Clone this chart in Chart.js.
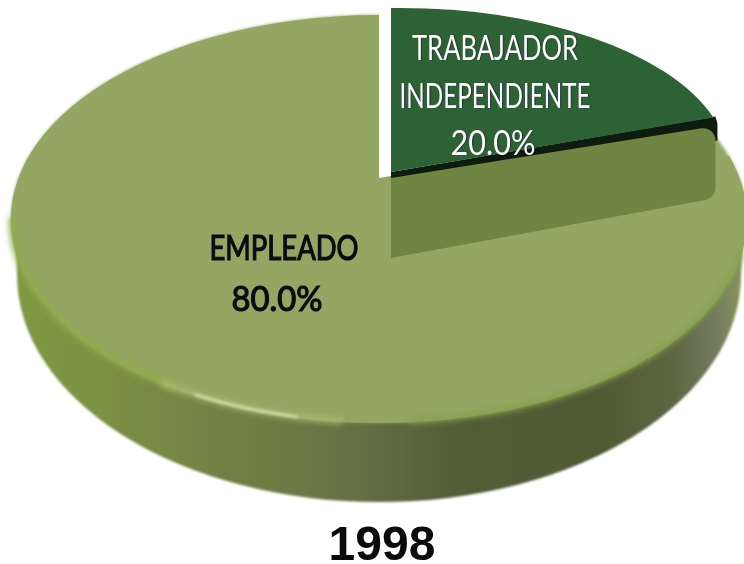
<!DOCTYPE html>
<html>
<head>
<meta charset="utf-8">
<style>html,body{margin:0;padding:0;background:#fff}canvas{display:block}</style>
<script src="https://cdn.jsdelivr.net/npm/chart.js@4"></script>
</head>
<body>
<canvas id="c" width="744" height="564"></canvas>
<script>
const categories = ['TRABAJADOR INDEPENDIENTE', 'EMPLEADO'];
const values = [20.0, 80.0];
const year = '1998';
const sliceColors = ['#2d6234', '#93a763'];

// projection of the round pie onto the page, one per slice
const faces = [
  {cx: 391, cy: 172, rx: 339, ry: 164, shear: -0.012},
  {cx: 379, cy: 219, rx: 368, ry: 204, shear: 0}
];
const base = {cx: 379, cy: 275, rx: 362, ry: 227};
const sideStops = [[0.0,'#7f9a42'],[0.1,'#7c9344'],[0.25,'#748546'],[0.4,'#6b7845'],[0.5,'#626c42'],[0.6,'#535d37'],[0.8,'#505a35'],[0.9,'#5d6641'],[0.96,'#767c60'],[1,'#8c9a58']];
const labelLayout = [
  {lines: [['TRABAJADOR',495,60,166],['INDEPENDIENTE',495,108,191]], pct: [493,155,85], color: '#fff', stroke: 0},
  {lines: [['EMPLEADO',284,260,149]], pct: [277,311,91], color: '#0b0b12', stroke: 1.2}
];

function place(ctx, arc, f) {
  ctx.translate(f.cx, f.cy);
  const R = arc.outerRadius;
  ctx.transform(f.rx / R, f.shear * f.rx / R, 0, f.ry / R, 0, 0);
  ctx.translate(-arc.x, -arc.y);
}
function endPoint(arc, f) {
  const a = arc.endAngle, c = Math.cos(a), s = Math.sin(a);
  return {x: f.cx + f.rx * c, y: f.cy + f.ry * s + f.shear * f.rx * c};
}

const pie3d = {
  id: 'pie3d',
  beforeDatasetsDraw(chart) {
    const ctx = chart.ctx;
    const arcs = chart.getDatasetMeta(0).data;
    const top = faces[1];
    const wedge = faces[0];
    const p = endPoint(arcs[0], wedge);
    const slope = (p.y - wedge.cy) / (p.x - wedge.cx);

    // side wall
    ctx.save();
    ctx.filter = 'blur(1px)';
    const g = ctx.createLinearGradient(top.cx - top.rx, 0, top.cx + top.rx, 0);
    sideStops.forEach(s => g.addColorStop(s[0], s[1]));
    ctx.fillStyle = g;
    ctx.beginPath();
    ctx.ellipse(base.cx, base.cy, base.rx, base.ry, 0, 0, Math.PI);
    ctx.lineTo(top.cx - top.rx + 5, top.cy);
    ctx.lineTo(top.cx + top.rx - 4, top.cy);
    ctx.closePath();
    ctx.fill();
    ctx.restore();

    // top face behind the slices, leaving the gap around the pulled-out wedge
    ctx.save();
    ctx.beginPath();
    ctx.moveTo(top.cx, 178);
    ctx.lineTo(top.cx, -50);
    ctx.lineTo(-50, -50);
    ctx.lineTo(-50, 620);
    ctx.lineTo(800, 620);
    ctx.lineTo(800, 178 + slope * (800 - top.cx));
    ctx.closePath();
    ctx.clip();
    ctx.filter = 'blur(1.5px)';
    ctx.fillStyle = sliceColors[1];
    ctx.beginPath();
    ctx.ellipse(top.cx, top.cy, top.rx, top.ry, 0, 0, Math.PI * 2);
    ctx.fill();
    ctx.restore();

    // employee slice
    ctx.save();
    place(ctx, arcs[1], top);
    arcs[1].draw(ctx);
    ctx.restore();

    // rim highlights
    const rim = (a, b, col, w, blur) => {
      ctx.save();
      ctx.filter = 'blur(' + blur + 'px)';
      ctx.strokeStyle = col;
      ctx.lineWidth = w;
      ctx.lineCap = 'round';
      ctx.beginPath();
      ctx.ellipse(top.cx, top.cy, top.rx - 1, top.ry - 1, 0, a * Math.PI / 180, b * Math.PI / 180);
      ctx.stroke();
      ctx.restore();
    };
    rim(124, 180, '#90ad47', 6, 3);
    rim(10, 85, '#84a04a', 5, 3);
    rim(96, 126, '#aebf72', 5, 3);
    rim(103, 120, '#e6ecc2', 2, 1.5);

    // dark edge under the wedge
    ctx.save();
    ctx.fillStyle = '#0d1c0e';
    ctx.beginPath();
    ctx.moveTo(wedge.cx, wedge.cy);
    ctx.lineTo(p.x + 2, p.y - 1);
    ctx.lineTo(p.x + 4, p.y + 6);
    ctx.lineTo(p.x + 4, p.y + 23);
    ctx.lineTo(wedge.cx, wedge.cy + 7);
    ctx.closePath();
    ctx.fill();
    ctx.restore();

    // wedge
    ctx.save();
    place(ctx, arcs[0], wedge);
    arcs[0].draw(ctx);
    ctx.restore();

    // translucent panel below the wedge
    const x0 = wedge.cx, x1 = p.x + 2, y0 = wedge.cy + 6, y1 = y0 + slope * (x1 - x0) + 3, d = 80, r = 12;
    ctx.save();
    ctx.filter = 'blur(0.6px)';
    ctx.fillStyle = '#6f8642';
    ctx.beginPath();
    ctx.moveTo(x0, y0);
    ctx.arcTo(x1, y1, x1, y1 + d, r);
    ctx.arcTo(x1, y1 + d - 8, x0, y0 + d, r);
    ctx.lineTo(x0, y0 + d);
    ctx.closePath();
    ctx.fill();
    ctx.restore();

    // slice labels
    labelLayout.forEach((l, i) => {
      ctx.save();
      ctx.textAlign = 'center';
      ctx.textBaseline = 'alphabetic';
      ctx.fillStyle = l.color;
      ctx.strokeStyle = l.color;
      ctx.lineWidth = l.stroke;
      ctx.font = 'normal 34px Lato,"Liberation Sans",sans-serif';
      if (i === 0) { ctx.shadowColor = 'rgba(30,30,60,0.7)'; ctx.shadowBlur = 1; ctx.shadowOffsetX = 1; }
      const put = (t, x, y, w) => {
        ctx.fillText(t, x, y, w);
        if (l.stroke) ctx.strokeText(t, x, y, w);
      };
      l.lines.forEach(t => put(t[0], t[1], t[2], t[3]));
      put(values[i].toFixed(1) + '%', l.pct[0], l.pct[1], l.pct[2]);
      ctx.restore();
    });
    return false;
  }
};

new Chart(document.getElementById('c'), {
  type: 'pie',
  data: {
    labels: categories,
    datasets: [{data: values, backgroundColor: sliceColors, borderWidth: 0, hoverOffset: 0}]
  },
  options: {
    responsive: false,
    animation: false,
    layout: {padding: {left: 20, bottom: 0}},
    plugins: {
      legend: {display: false},
      tooltip: {enabled: false},
      title: {
        display: true,
        text: year,
        position: 'bottom',
        color: '#0b0b0b',
        padding: {top: 0, bottom: -7},
        font: {family: '"Liberation Sans",sans-serif', size: 48, weight: 'bold', lineHeight: 1}
      }
    }
  },
  plugins: [pie3d]
});
</script>
</body>
</html>
